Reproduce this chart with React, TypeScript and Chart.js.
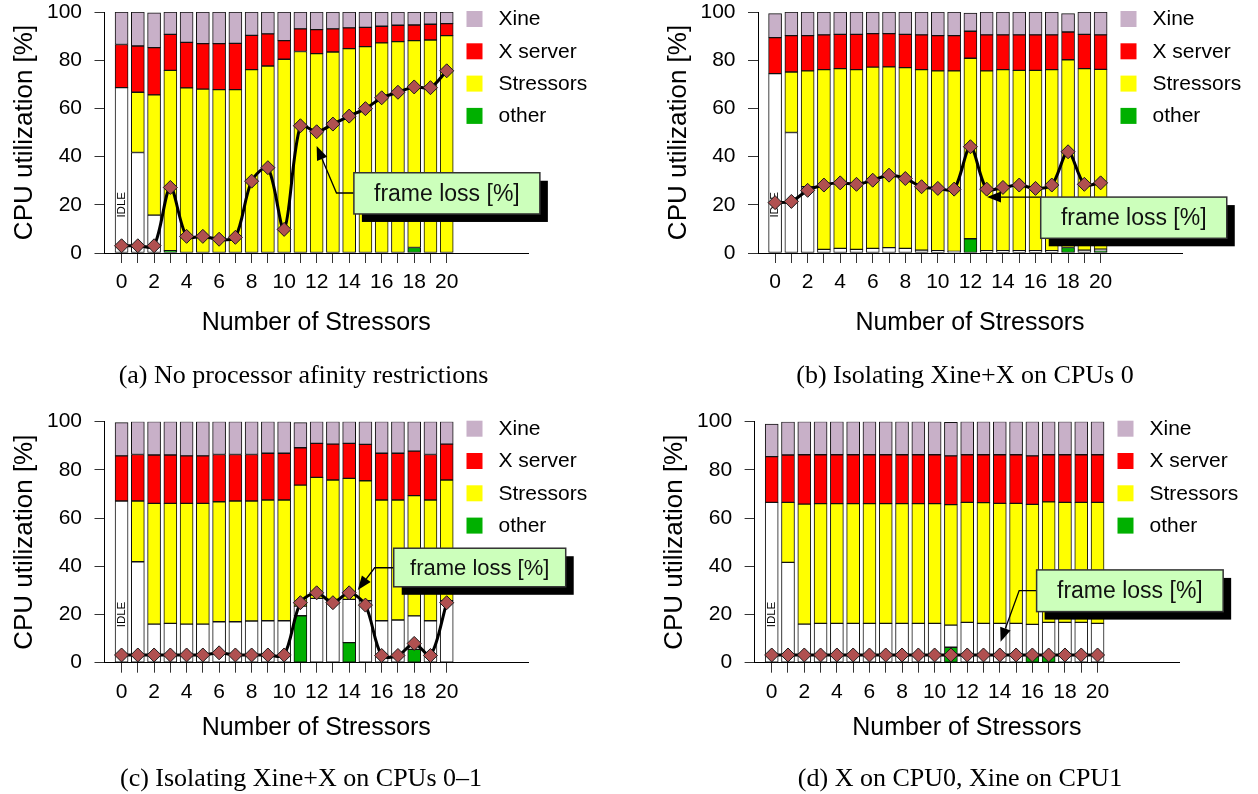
import React, { useEffect, useRef } from "react";
import { Chart, registerables } from "chart.js";

Chart.register(...registerables);

const SANS = '"Liberation Sans", Arial, Helvetica, sans-serif';
const SERIF = '"Liberation Serif", "Times New Roman", Times, serif';

// ---- shared axes / labels ----
const stressorCounts = [0, 1, 2, 3, 4, 5, 6, 7, 8, 9, 10, 11, 12, 13, 14, 15, 16, 17, 18, 19, 20];
const yTickValues = [0, 20, 40, 60, 80, 100];
const legendLabels = ["Xine", "X server", "Stressors", "other"];
const lossLabel = "frame loss [%]";

const COLORS = {
  idle: "#ffffff",
  other: "#00b000",
  stressors: "#ffff00",
  xserver: "#ff0000",
  xine: "#c8b0c8",
  loss: "#b05050",
};
const legendColors = [COLORS.xine, COLORS.xserver, COLORS.stressors, COLORS.other];

// ---- (a) No processor affinity restrictions ----
const idleA = [68.6, 41.7, 15.7, 0, 0, 0, 0, 0, 0, 0, 0, 0, 0, 0, 0, 0, 0, 0, 0, 0, 0];
const otherA = [0, 0, 0, 1.0, 0, 0, 0, 0, 0, 0, 0, 0, 0, 0, 0, 0, 0, 0, 2.3, 0, 0];
const stressA = [0, 25.0, 49.9, 74.8, 68.5, 68.0, 67.8, 67.8, 76.1, 77.6, 80.4, 83.6, 82.7, 83.4, 84.8, 85.6, 87.2, 87.7, 85.8, 88.4, 90.2];
const xserverA = [17.9, 19.2, 19.6, 14.9, 18.9, 18.9, 19.1, 19.2, 14.2, 13.3, 7.7, 9.4, 10.0, 9.6, 8.6, 8.0, 6.9, 6.8, 6.5, 6.5, 5.0];
const xineA = [13.5, 14.1, 14.5, 9.3, 12.6, 13.1, 13.1, 13.0, 9.7, 9.1, 11.9, 7.0, 7.3, 7.0, 6.6, 6.4, 5.9, 5.5, 5.4, 5.1, 4.8];
const lossA = [3.0, 3.0, 3.0, 27.2, 6.9, 6.9, 5.7, 6.5, 29.8, 35.4, 9.8, 52.8, 50.3, 53.5, 56.8, 59.9, 64.4, 66.7, 68.9, 68.6, 75.6];

// ---- (b) Isolating Xine+X on CPU 0 ----
const idleB = [74.4, 50.0, 27.5, 1.5, 1.9, 1.5, 1.9, 2.2, 1.9, 1.2, 1.0, 0.7, 0, 1.0, 1.0, 1.0, 1.0, 1.0, 0, 1.2, 0.8];
const otherB = [0, 0, 0, 0, 0, 0, 0, 0, 0, 0, 0, 0, 5.9, 0, 0, 0, 0, 0, 2.3, 0, 0.8];
const stressB = [0, 25.1, 48.1, 74.6, 74.6, 74.6, 75.2, 75.0, 75.0, 74.9, 74.6, 74.9, 74.9, 74.6, 75.1, 74.8, 74.8, 75.1, 77.9, 75.3, 74.6];
const xserverB = [15.0, 15.1, 14.6, 14.4, 14.2, 14.6, 13.9, 13.8, 13.8, 14.4, 14.6, 14.6, 11.2, 14.9, 14.4, 14.7, 14.7, 14.4, 11.5, 14.2, 14.3];
const xineB = [9.9, 9.8, 9.8, 9.5, 9.3, 9.3, 9.0, 9.0, 9.3, 9.5, 9.8, 9.8, 7.6, 9.5, 9.5, 9.5, 9.5, 9.5, 7.6, 9.3, 9.5];
const lossB = [20.9, 21.4, 26.0, 28.2, 29.1, 28.5, 30.2, 32.3, 30.9, 27.5, 26.8, 26.5, 44.1, 26.5, 27.2, 28.2, 26.8, 28.2, 42.0, 28.5, 29.1];

// ---- (c) Isolating Xine+X on CPUs 0-1 ----
const idleC = [67.1, 41.9, 16.0, 16.3, 16.0, 16.0, 17.0, 17.0, 17.3, 17.4, 17.4, 4.0, 26.7, 26.3, 18.0, 25.7, 17.4, 17.7, 13.9, 17.4, 25.7];
const otherC = [0, 0, 0, 0, 0, 0, 0, 0, 0, 0, 0, 19.5, 0, 0, 8.3, 0, 0, 0, 5.5, 0, 0];
const stressC = [0, 25.2, 50.1, 49.8, 50.1, 50.1, 49.8, 50.1, 49.8, 50.1, 50.1, 50.2, 50.2, 49.5, 50.2, 49.8, 50.1, 49.8, 49.9, 50.1, 50.1];
const xserverC = [18.7, 19.3, 20.1, 20.1, 19.7, 19.7, 19.6, 19.3, 19.3, 19.4, 19.4, 15.5, 14.1, 14.9, 14.5, 15.1, 19.4, 19.4, 18.5, 18.9, 14.9];
const xineC = [13.8, 13.6, 13.8, 13.8, 14.2, 14.2, 13.6, 13.6, 13.6, 13.1, 13.1, 10.4, 9.0, 9.3, 9.0, 9.4, 13.1, 13.1, 12.2, 13.6, 9.3];
const lossC = [3.2, 3.2, 3.2, 3.2, 3.2, 3.2, 4.1, 3.2, 3.2, 3.2, 3.2, 24.9, 29.0, 24.9, 29.0, 23.9, 3.0, 3.0, 8.0, 3.0, 24.9];

// ---- (d) X on CPU0, Xine on CPU1 ----
const idleD = [66.5, 41.6, 16.0, 16.3, 16.3, 16.3, 16.3, 16.3, 16.3, 16.3, 16.3, 9.2, 16.7, 16.3, 16.3, 16.3, 13.4, 14.2, 16.7, 16.7, 16.3];
const otherD = [0, 0, 0, 0, 0, 0, 0, 0, 0, 0, 0, 6.4, 0, 0, 0, 0, 2.5, 2.5, 0, 0, 0];
const stressD = [0, 24.9, 49.8, 49.7, 49.7, 49.7, 49.7, 49.7, 49.7, 49.7, 49.7, 50.0, 49.8, 50.1, 49.8, 49.8, 49.8, 50.0, 49.8, 49.8, 50.2];
const xserverD = [19.0, 19.7, 20.5, 20.3, 20.3, 20.3, 20.3, 20.3, 20.3, 20.3, 20.3, 20.2, 19.8, 19.9, 20.2, 20.2, 20.1, 19.6, 19.8, 19.8, 19.8];
const xineD = [13.5, 13.7, 13.7, 13.7, 13.7, 13.7, 13.7, 13.7, 13.7, 13.7, 13.7, 13.9, 13.7, 13.7, 13.7, 13.7, 14.2, 13.7, 13.7, 13.7, 13.7];
const lossD = [3.2, 3.2, 3.2, 3.2, 3.2, 3.2, 3.2, 3.2, 3.2, 3.2, 3.2, 3.2, 3.2, 3.2, 3.2, 3.2, 3.2, 3.2, 3.2, 3.2, 3.2];

// Callout boxes in data units: box = [left, top, right, bottom], path runs from the box edge to the arrow tip.
type Callout = { box: [number, number, number, number]; path: [number, number][]; fontSize: number };

const calloutA: Callout = { box: [14.29, 33.3, 25.73, 16.2], path: [[14.29, 24.9], [13.22, 24.9], [12.0, 44.4]], fontSize: 23 };
const calloutB: Callout = { box: [16.32, 23.2, 27.75, 6.1], path: [[16.32, 23.2], [13.02, 23.2]], fontSize: 23 };
const calloutC: Callout = { box: [16.74, 47.5, 27.32, 31.5], path: [[16.74, 39.4], [15.57, 39.4], [14.53, 30.2]], fontSize: 22 };
const calloutD: Callout = { box: [16.26, 38.5, 27.71, 21.2], path: [[16.26, 29.9], [15.19, 29.9], [14.05, 8.7]], fontSize: 23 };

type PanelCfg = {
  left: number;
  top: number;
  width: number;
  height: number;
  pad: { left: number; right: number; top: number; bottom: number };
  xTitlePad: number;
  idle: number[];
  other: number[];
  stress: number[];
  xserver: number[];
  xine: number[];
  loss: number[];
  callout: Callout;
  caption: string;
  captionX: number;
  captionY: number;
};

const panels: PanelCfg[] = [
  {
    left: 0, top: 0, width: 629, height: 400,
    pad: { left: 0, right: 101, top: 12, bottom: 57 }, xTitlePad: 5,
    idle: idleA, other: otherA, stress: stressA, xserver: xserverA, xine: xineA, loss: lossA,
    callout: calloutA, caption: "(a) No processor afinity restrictions", captionX: 303.5, captionY: 375,
  },
  {
    left: 629, top: 0, width: 629, height: 400,
    pad: { left: 24.5, right: 76, top: 12, bottom: 57 }, xTitlePad: 5,
    idle: idleB, other: otherB, stress: stressB, xserver: xserverB, xine: xineB, loss: lossB,
    callout: calloutB, caption: "(b) Isolating Xine+X on CPUs 0", captionX: 965, captionY: 375,
  },
  {
    left: 0, top: 400, width: 629, height: 394,
    pad: { left: 0, right: 101, top: 21.7, bottom: 41.3 }, xTitlePad: 9.7,
    idle: idleC, other: otherC, stress: stressC, xserver: xserverC, xine: xineC, loss: lossC,
    callout: calloutC, caption: "(c) Isolating Xine+X on CPUs 0\u20131", captionX: 301, captionY: 778,
  },
  {
    left: 629, top: 400, width: 629, height: 394,
    pad: { left: 21.1, right: 79, top: 21.7, bottom: 41.3 }, xTitlePad: 9.7,
    idle: idleD, other: otherD, stress: stressD, xserver: xserverD, xine: xineD, loss: lossD,
    callout: calloutD, caption: "(d) X on CPU0, Xine on CPU1", captionX: 960, captionY: 778,
  },
];

function drawCallout(chart: any, c: Callout, text: string) {
  const xs = chart.scales.x;
  const ys = chart.scales.y;
  const ctx: CanvasRenderingContext2D = chart.ctx;
  const L = xs.getPixelForValue(c.box[0]);
  const T = ys.getPixelForValue(c.box[1]);
  const R = xs.getPixelForValue(c.box[2]);
  const B = ys.getPixelForValue(c.box[3]);
  const pts = c.path.map(([px, py]) => [xs.getPixelForValue(px), ys.getPixelForValue(py)]);
  const n = pts.length;
  const [tx, ty] = pts[n - 1];
  const [sx, sy] = pts[n - 2];
  const ang = Math.atan2(ty - sy, tx - sx);
  const headLen = 14;
  const headHalf = 5.5;
  const bx = tx - Math.cos(ang) * headLen;
  const by = ty - Math.sin(ang) * headLen;

  ctx.save();
  ctx.strokeStyle = "#000";
  ctx.lineWidth = 1.3;
  ctx.beginPath();
  ctx.moveTo(pts[0][0], pts[0][1]);
  for (let i = 1; i < n - 1; i++) ctx.lineTo(pts[i][0], pts[i][1]);
  ctx.lineTo(bx, by);
  ctx.stroke();
  ctx.fillStyle = "#000";
  ctx.beginPath();
  ctx.moveTo(tx, ty);
  ctx.lineTo(bx + Math.sin(ang) * headHalf, by - Math.cos(ang) * headHalf);
  ctx.lineTo(bx - Math.sin(ang) * headHalf, by + Math.cos(ang) * headHalf);
  ctx.closePath();
  ctx.fill();

  // drop shadow, box, label
  ctx.fillStyle = "#000";
  ctx.fillRect(L + 8, T + 8, R - L, B - T);
  ctx.fillStyle = "#ccffbb";
  ctx.fillRect(L, T, R - L, B - T);
  ctx.strokeStyle = "#333";
  ctx.lineWidth = 1.5;
  ctx.strokeRect(L, T, R - L, B - T);
  ctx.fillStyle = "#111";
  ctx.font = `${c.fontSize}px ${SANS}`;
  ctx.textAlign = "center";
  ctx.textBaseline = "middle";
  ctx.fillText(text, (L + R) / 2, (T + B) / 2 + 1);
  ctx.restore();
}

const extrasPlugin = {
  id: "panelExtras",
  // "IDLE" tag inside the first bar, drawn after the bars and before the loss line
  afterDatasetDraw(chart: any, args: any) {
    if (args.index !== 1) return;
    const ctx: CanvasRenderingContext2D = chart.ctx;
    const x = chart.scales.x.getPixelForValue(stressorCounts[0]);
    const y = chart.scales.y.getPixelForValue(20);
    ctx.save();
    ctx.translate(x, y);
    ctx.rotate(-Math.PI / 2);
    ctx.fillStyle = "#000";
    ctx.font = `11.5px ${SANS}`;
    ctx.textAlign = "center";
    ctx.textBaseline = "middle";
    ctx.fillText("IDLE", 0, 0);
    ctx.restore();
  },
  afterDraw(chart: any, _args: any, opts: any) {
    const ctx: CanvasRenderingContext2D = chart.ctx;
    const area = chart.chartArea;
    ctx.save();
    ctx.font = `21px ${SANS}`;
    ctx.textAlign = "left";
    ctx.textBaseline = "middle";
    legendLabels.forEach((label, i) => {
      const top = area.top - 1 + i * 32.3;
      ctx.fillStyle = legendColors[i];
      ctx.fillRect(area.right - 61.5, top, 16, 16);
      ctx.fillStyle = "#000";
      ctx.fillText(label, area.right - 29.5, top + 8.5);
    });
    ctx.restore();
    drawCallout(chart, opts.callout, chart.data.datasets[0].label);
  },
};

function barSeries(label: string, data: number[], color: string) {
  return {
    type: "bar" as const,
    label,
    data,
    backgroundColor: color,
    borderColor: "#111",
    borderWidth: 1,
    borderSkipped: false as const,
    barThickness: 13,
    stack: "cpu",
    xAxisID: "x",
    yAxisID: "y",
  };
}

function buildConfig(cfg: PanelCfg): any {
  return {
    type: "bar",
    data: {
      labels: stressorCounts,
      datasets: [
        {
          type: "line",
          label: lossLabel,
          data: cfg.loss,
          xAxisID: "x",
          yAxisID: "yl",
          borderColor: "#000",
          borderWidth: 3,
          tension: 0.3,
          fill: false,
          pointStyle: "rectRot",
          pointRadius: 7,
          pointBackgroundColor: COLORS.loss,
          pointBorderColor: "#1a1a1a",
          pointBorderWidth: 1,
        },
        barSeries("other", cfg.other, COLORS.other),
        barSeries("IDLE", cfg.idle, COLORS.idle),
        barSeries("Stressors", cfg.stress, COLORS.stressors),
        barSeries("X server", cfg.xserver, COLORS.xserver),
        barSeries("Xine", cfg.xine, COLORS.xine),
      ],
    },
    options: {
      responsive: false,
      animation: false,
      events: [],
      layout: { padding: cfg.pad },
      plugins: {
        legend: { display: false },
        tooltip: { enabled: false },
        panelExtras: { callout: cfg.callout },
      },
      scales: {
        x: {
          type: "linear",
          min: -1.05,
          max: 25,
          offset: false,
          afterBuildTicks: (s: any) => {
            s.ticks = stressorCounts.map((v) => ({ value: v }));
          },
          afterFit: (s: any) => {
            s.height = 90;
            s.paddingLeft = 0;
            s.paddingRight = 0;
          },
          ticks: {
            autoSkip: false,
            maxRotation: 0,
            minRotation: 0,
            padding: 7,
            color: "#000",
            font: { size: 21, family: SANS },
            callback: (v: any) => (Number(v) % 2 === 0 ? String(v) : ""),
          },
          grid: { drawOnChartArea: false, offset: false, tickLength: 10, tickColor: "#333", tickWidth: 1 },
          border: { display: true, color: "#000", width: 1 },
          title: {
            display: true,
            text: "Number of Stressors",
            color: "#000",
            font: { size: 25, family: SANS },
            padding: { top: 0, bottom: cfg.xTitlePad },
          },
        },
        y: {
          type: "linear",
          position: "left",
          stacked: true,
          min: 0,
          max: 100,
          afterBuildTicks: (s: any) => {
            s.ticks = yTickValues.map((v) => ({ value: v }));
          },
          afterFit: (s: any) => {
            s.width = 104.5;
            s.paddingTop = 0;
            s.paddingBottom = 0;
          },
          ticks: { padding: 12.5, color: "#000", font: { size: 21, family: SANS } },
          grid: { drawOnChartArea: false, tickLength: 10, tickColor: "#333", tickWidth: 1 },
          border: { display: true, color: "#000", width: 1 },
          title: {
            display: true,
            text: "CPU utilization [%]",
            color: "#000",
            font: { size: 26, family: SANS },
            padding: { top: 9.4, bottom: 0 },
          },
        },
        yl: { type: "linear", display: false, min: 0, max: 100 },
      },
    },
    plugins: [extrasPlugin],
  };
}

function Panel({ cfg }: { cfg: PanelCfg }) {
  const ref = useRef<HTMLCanvasElement | null>(null);
  useEffect(() => {
    if (!ref.current) return;
    const chart = new Chart(ref.current, buildConfig(cfg));
    return () => chart.destroy();
  }, [cfg]);
  return (
    <canvas
      ref={ref}
      width={cfg.width}
      height={cfg.height}
      style={{ position: "absolute", left: cfg.left, top: cfg.top, width: cfg.width, height: cfg.height }}
    />
  );
}

export default function App() {
  return (
    <div
      style={{
        position: "fixed",
        left: 0,
        top: 0,
        width: 1258,
        height: 794,
        background: "#fff",
        overflow: "hidden",
      }}
    >
      {panels.map((p, i) => (
        <Panel key={i} cfg={p} />
      ))}
      {panels.map((p, i) => (
        <div
          key={`cap${i}`}
          style={{
            position: "absolute",
            left: p.captionX - 300,
            width: 600,
            top: p.captionY - 15,
            lineHeight: "30px",
            textAlign: "center",
            fontFamily: SERIF,
            fontSize: 26,
            color: "#000",
            whiteSpace: "nowrap",
          }}
        >
          {p.caption}
        </div>
      ))}
    </div>
  );
}
